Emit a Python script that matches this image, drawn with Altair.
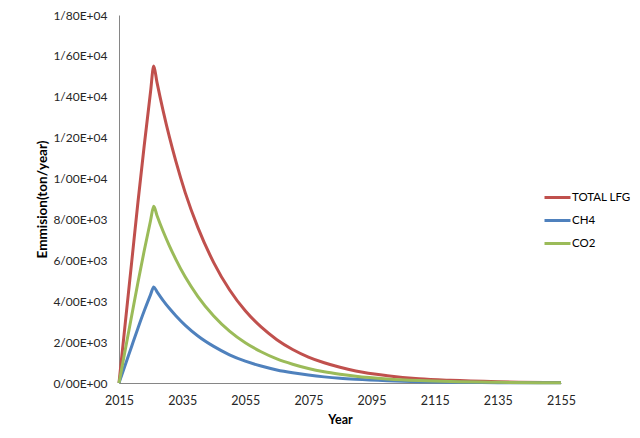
import altair as alt
import pandas as pd

years = [2015, 2017, 2019, 2021, 2023, 2025, 2026, 2027, 2029, 2031, 2033, 2036, 2040, 2045,
         2050, 2055, 2060, 2065, 2070, 2075, 2080, 2085, 2090, 2100, 2110, 2120, 2135, 2155]
total_lfg = [0, 2950, 5890, 8840, 11630, 14260, 15500, 14730, 13300, 12010, 10850, 9300, 7600, 5890,
             4560, 3530, 2740, 2120, 1640, 1270, 990, 770, 590, 360, 210, 130, 60, 20]
ch4 = [0, 890, 1790, 2680, 3530, 4320, 4700, 4470, 4030, 3640, 3290, 2820, 2300, 1790,
       1380, 1070, 830, 640, 500, 390, 300, 230, 180, 110, 65, 39, 18, 7]
co2 = [0, 1640, 3280, 4920, 6480, 7950, 8640, 8210, 7410, 6700, 6050, 5180, 4230, 3280,
       2540, 1970, 1530, 1180, 920, 710, 550, 430, 330, 200, 120, 70, 33, 12]

series_names = ["TOTAL LFG", "CH4", "CO2"]
series_colors = ["#C0504D", "#4F81BD", "#9BBB59"]
x_ticks = [2015, 2035, 2055, 2075, 2095, 2115, 2135, 2155]
y_ticks = [0, 2000, 4000, 6000, 8000, 10000, 12000, 14000, 16000, 18000]

rows = []
for name, vals in zip(series_names, [total_lfg, ch4, co2]):
    for yr, v in zip(years, vals):
        rows.append({"Year": yr, "Value": v, "Series": name})
df = pd.DataFrame(rows)

FONT = "Lato"
label_expr = (
    "datum.value == 0 ? '0/00E+00' : "
    "replace(format(datum.value / pow(10, floor(log(datum.value) / LN10 + 1e-9)), '.2f'), '.', '/')"
    " + 'E+' + format(floor(log(datum.value) / LN10 + 1e-9), '02d')"
)

chart = alt.Chart(df).mark_line(strokeWidth=3, interpolate="monotone").encode(
    x=alt.X("Year:Q",
            scale=alt.Scale(domain=[2015, 2155], nice=False, zero=False),
            axis=alt.Axis(values=x_ticks, format="d", title="Year", grid=False,
                          ticks=False, labelPadding=11, titlePadding=7, labelFlush=False,
                          domainColor="#868686", labelColor="#262626",
                          labelFontSize=12.5, titleFontSize=12.5, titleFontWeight="bold",
                          titleColor="#000000", labelFont=FONT, titleFont=FONT)),
    y=alt.Y("Value:Q",
            scale=alt.Scale(domain=[0, 18000], nice=False),
            axis=alt.Axis(values=y_ticks, labelExpr=label_expr, title="Emmision(ton/year)",
                          grid=False, ticks=False, labelPadding=12, titlePadding=3,
                          labelFlush=False,
                          domainColor="#868686", labelColor="#262626",
                          labelFontSize=12, titleFontSize=13.5, titleFontWeight="bold",
                          titleColor="#000000", labelFont=FONT, titleFont=FONT)),
    color=alt.Color("Series:N",
                    scale=alt.Scale(domain=series_names, range=series_colors),
                    sort=series_names,
                    legend=alt.Legend(title=None, orient="none", legendX=424, legendY=168,
                                      symbolType="stroke", symbolSize=676,
                                      symbolStrokeWidth=3, labelFont=FONT,
                                      labelFontSize=11.5, labelColor="#000000",
                                      labelOffset=0, rowPadding=2, padding=0)),
).properties(
    width=442,
    height=368,
    autosize=alt.AutoSizeParams(type="none"),
    padding={"left": 111, "top": 7, "right": 71, "bottom": 47},
).configure_view(stroke=None)

chart.save("out.html", embed_options={"renderer": "svg", "actions": False})
